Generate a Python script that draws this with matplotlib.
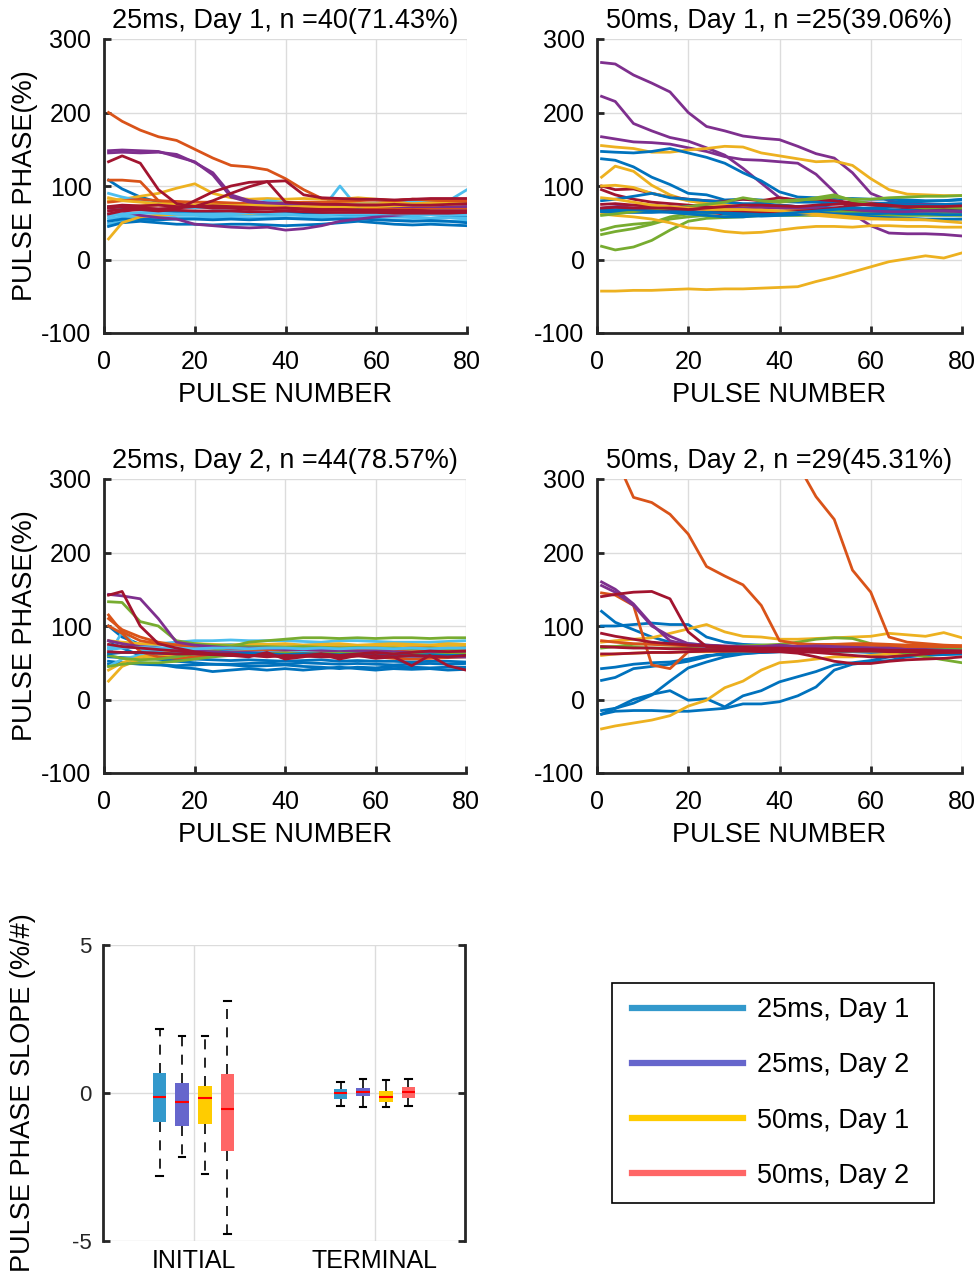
import numpy as np
import matplotlib.pyplot as plt
from matplotlib.patches import Rectangle

plt.rcParams['font.family'] = ['Liberation Sans', 'DejaVu Sans']
plt.rcParams['axes.unicode_minus'] = False

# matlab default line colours
C = ['#0072BD', '#D95319', '#EDB120', '#7E2F8E', '#77AC30', '#4DBEEE', '#A2142F']

PULSE = [1, 4, 8, 12, 16, 20, 24, 28, 32, 36, 40, 44, 48, 52, 56, 60, 64, 68, 72, 76, 80]

titles = ['25ms, Day 1, n =40(71.43%)', '50ms, Day 1, n =25(39.06%)',
          '25ms, Day 2, n =44(78.57%)', '50ms, Day 2, n =29(45.31%)']

# ---- 25ms day 1 ----
d1_25_col = [5, 5, 5, 5, 0, 0, 0, 2, 2, 5, 0, 1, 2, 3, 5, 1, 3, 3, 1, 2, 6, 6, 6, 6, 6]
d1_25 = [
    [62, 60, 58, 60, 62, 63, 62, 64, 63, 64, 62, 64, 68, 100, 70, 68, 66, 67, 65, 64, 62],
    [55, 58, 60, 58, 60, 60, 59, 60, 61, 60, 60, 61, 60, 60, 59, 60, 58, 57, 56, 57, 56],
    [58, 62, 63, 64, 62, 63, 64, 63, 62, 63, 62, 62, 63, 62, 61, 60, 59, 58, 56, 57, 55],
    [48, 52, 54, 55, 56, 56, 56, 57, 57, 56, 56, 57, 57, 56, 56, 55, 54, 53, 52, 52, 52],
    [45, 50, 52, 50, 48, 48, 47, 48, 48, 47, 46, 47, 48, 50, 52, 50, 48, 47, 48, 47, 46],
    [52, 55, 55, 54, 55, 55, 54, 55, 54, 55, 56, 55, 54, 55, 55, 54, 53, 52, 53, 52, 50],
    [108, 96, 85, 78, 75, 72, 70, 70, 70, 70, 70, 70, 69, 70, 70, 70, 69, 70, 70, 70, 70],
    [28, 50, 58, 60, 62, 63, 64, 64, 63, 64, 64, 65, 64, 65, 66, 65, 64, 65, 66, 65, 66],
    [80, 82, 86, 90, 97, 103, 90, 84, 82, 83, 82, 83, 82, 82, 84, 82, 80, 79, 78, 79, 78],
    [90, 85, 80, 75, 72, 70, 72, 72, 75, 80, 78, 76, 76, 77, 76, 77, 78, 79, 78, 80, 95],
    [72, 70, 68, 66, 65, 64, 64, 64, 64, 63, 63, 63, 62, 62, 62, 62, 61, 61, 61, 60, 60],
    [108, 108, 106, 80, 75, 73, 72, 70, 70, 69, 70, 70, 69, 70, 71, 70, 70, 69, 70, 70, 70],
    [70, 72, 73, 74, 73, 74, 75, 75, 76, 76, 77, 77, 76, 77, 76, 76, 77, 76, 77, 78, 77],
    [70, 66, 60, 57, 55, 48, 46, 44, 43, 44, 40, 42, 46, 52, 55, 58, 60, 62, 62, 63, 63],
    [60, 62, 64, 63, 62, 62, 62, 63, 64, 63, 62, 60, 60, 62, 62, 62, 62, 61, 61, 60, 61],
    [78, 80, 82, 80, 79, 78, 78, 77, 76, 76, 77, 78, 78, 79, 80, 81, 80, 82, 81, 80, 80],
    [148, 149, 148, 147, 140, 133, 115, 85, 78, 76, 75, 74, 74, 73, 74, 73, 72, 72, 72, 72, 72],
    [145, 146, 145, 146, 143, 132, 118, 88, 80, 77, 76, 76, 75, 75, 74, 74, 73, 73, 72, 73, 72],
    [200, 188, 176, 167, 162, 150, 138, 128, 126, 122, 110, 95, 83, 82, 82, 81, 80, 82, 81, 80, 80],
    [84, 80, 78, 76, 75, 74, 74, 73, 74, 73, 72, 72, 72, 71, 72, 72, 73, 74, 74, 75, 76],
    [133, 141, 131, 95, 76, 72, 70, 70, 68, 69, 70, 68, 67, 68, 67, 66, 66, 67, 66, 66, 66],
    [62, 66, 68, 66, 68, 80, 92, 100, 105, 106, 78, 76, 75, 75, 74, 74, 75, 74, 74, 75, 76],
    [70, 72, 70, 69, 70, 72, 80, 90, 99, 106, 107, 88, 84, 83, 82, 82, 81, 82, 83, 83, 83],
    [72, 74, 73, 74, 72, 72, 73, 72, 71, 70, 70, 69, 68, 68, 67, 67, 67, 66, 66, 66, 66],
    [66, 68, 70, 68, 67, 66, 66, 66, 65, 65, 66, 65, 64, 64, 64, 64, 63, 63, 63, 63, 64],
]

# ---- 50ms day 1 ----
d1_50_col = [3, 3, 3, 2, 0, 0, 2, 6, 6, 6, 4, 4, 4, 2, 2, 2, 0, 0, 0, 4, 3, 6, 2, 0, 6]
d1_50 = [
    [268, 266, 251, 240, 228, 200, 181, 175, 168, 165, 163, 154, 144, 138, 118, 90, 80, 76, 75, 74, 73],
    [222, 215, 185, 175, 166, 161, 152, 142, 124, 104, 84, 80, 79, 78, 78, 77, 76, 76, 75, 75, 75],
    [167, 164, 160, 159, 157, 152, 147, 140, 136, 135, 133, 131, 116, 92, 62, 46, 36, 35, 35, 34, 32],
    [155, 153, 151, 146, 146, 149, 151, 154, 153, 145, 141, 137, 133, 134, 128, 110, 95, 89, 88, 87, 87],
    [147, 146, 145, 147, 151, 145, 139, 131, 118, 107, 92, 85, 84, 83, 83, 82, 82, 81, 80, 80, 81],
    [137, 135, 126, 112, 102, 90, 88, 81, 82, 81, 79, 78, 78, 76, 77, 76, 77, 78, 79, 80, 82],
    [112, 127, 120, 101, 88, 80, 76, 74, 72, 70, 70, 68, 68, 67, 66, 66, 66, 65, 65, 66, 66],
    [100, 95, 96, 90, 85, 82, 80, 79, 82, 80, 84, 81, 82, 80, 77, 75, 72, 70, 69, 70, 70],
    [95, 88, 82, 78, 76, 74, 72, 70, 70, 72, 74, 72, 70, 68, 66, 65, 66, 66, 67, 68, 68],
    [68, 66, 67, 66, 68, 66, 64, 62, 62, 63, 64, 64, 63, 62, 64, 65, 65, 66, 67, 68, 69],
    [40, 45, 48, 50, 58, 62, 64, 66, 72, 78, 80, 81, 82, 85, 82, 82, 84, 85, 86, 86, 87],
    [34, 38, 42, 48, 55, 58, 60, 58, 60, 62, 64, 64, 65, 66, 64, 63, 62, 62, 62, 63, 62],
    [18, 13, 17, 26, 40, 52, 56, 57, 58, 60, 60, 60, 60, 60, 60, 61, 60, 60, 60, 60, 60],
    [-43, -43, -42, -42, -41, -40, -41, -40, -40, -39, -38, -37, -30, -24, -17, -10, -3, 1, 5, 2, 9],
    [62, 60, 58, 55, 50, 43, 42, 38, 36, 37, 40, 43, 45, 45, 44, 46, 46, 45, 45, 44, 44],
    [100, 101, 98, 90, 85, 80, 76, 72, 70, 68, 65, 62, 60, 58, 56, 55, 55, 54, 54, 54, 55],
    [65, 64, 64, 64, 65, 65, 64, 64, 63, 63, 63, 63, 63, 62, 62, 62, 63, 62, 62, 61, 61],
    [66, 66, 66, 68, 70, 72, 68, 62, 60, 59, 60, 61, 63, 62, 60, 58, 57, 56, 55, 55, 55],
    [80, 82, 86, 90, 84, 82, 80, 78, 76, 76, 74, 72, 72, 70, 70, 69, 68, 67, 66, 66, 66],
    [60, 62, 65, 68, 70, 72, 75, 78, 84, 80, 78, 80, 84, 88, 80, 76, 72, 72, 70, 71, 70],
    [70, 72, 74, 74, 72, 70, 69, 70, 70, 71, 70, 70, 70, 70, 68, 66, 65, 65, 66, 66, 65],
    [75, 76, 74, 72, 70, 70, 68, 67, 66, 65, 65, 66, 67, 70, 73, 76, 74, 72, 73, 74, 74],
    [84, 82, 78, 74, 72, 70, 68, 68, 68, 67, 66, 64, 62, 60, 58, 56, 55, 55, 54, 52, 50],
    [68, 68, 68, 66, 64, 62, 60, 58, 58, 60, 62, 64, 66, 68, 70, 70, 72, 74, 74, 75, 76],
    [70, 71, 70, 70, 70, 68, 70, 72, 74, 74, 73, 72, 74, 75, 76, 74, 73, 72, 72, 72, 73],
]

# ---- 25ms day 2 ----
d2_25_col = [0, 0, 0, 0, 0, 5, 5, 5, 5, 2, 2, 2, 1, 1, 1, 4, 4, 3, 3, 4, 5, 0, 6, 6, 6]
d2_25 = [
    [48, 50, 50, 48, 44, 42, 38, 40, 42, 40, 42, 40, 42, 44, 42, 40, 42, 41, 42, 40, 41],
    [52, 50, 48, 47, 46, 47, 48, 47, 45, 46, 47, 45, 44, 42, 44, 43, 45, 44, 43, 44, 44],
    [80, 70, 60, 55, 52, 50, 48, 48, 49, 50, 48, 50, 49, 48, 49, 48, 47, 48, 49, 48, 49],
    [100, 85, 75, 70, 68, 67, 66, 66, 65, 66, 66, 65, 66, 65, 66, 66, 65, 66, 66, 65, 66],
    [58, 57, 56, 55, 54, 55, 54, 53, 54, 53, 52, 53, 54, 52, 53, 52, 52, 51, 52, 52, 51],
    [70, 72, 74, 76, 78, 80, 80, 81, 80, 80, 80, 79, 78, 80, 80, 79, 78, 78, 78, 79, 80],
    [60, 92, 68, 66, 65, 66, 64, 65, 66, 64, 65, 66, 64, 66, 65, 64, 65, 66, 64, 65, 64],
    [45, 55, 60, 61, 62, 61, 60, 60, 61, 60, 59, 60, 60, 59, 60, 59, 58, 58, 59, 58, 58],
    [72, 73, 74, 74, 75, 74, 74, 75, 74, 75, 74, 74, 75, 74, 73, 74, 74, 73, 74, 73, 74],
    [25, 45, 55, 58, 60, 62, 63, 62, 63, 62, 63, 62, 63, 64, 63, 62, 63, 62, 63, 62, 62],
    [80, 78, 76, 75, 75, 76, 75, 74, 76, 75, 76, 74, 75, 76, 74, 75, 76, 75, 74, 76, 75],
    [40, 50, 58, 62, 66, 70, 70, 71, 72, 72, 72, 72, 73, 72, 72, 73, 72, 73, 73, 72, 73],
    [110, 95, 85, 78, 74, 72, 71, 70, 70, 70, 70, 69, 70, 70, 69, 70, 69, 70, 70, 69, 70],
    [100, 90, 65, 58, 56, 58, 60, 61, 62, 62, 61, 62, 60, 61, 60, 58, 56, 55, 56, 57, 58],
    [115, 92, 80, 76, 74, 72, 70, 69, 68, 68, 67, 68, 67, 66, 67, 66, 66, 65, 66, 66, 65],
    [60, 56, 54, 55, 58, 62, 66, 72, 78, 80, 82, 84, 84, 83, 84, 83, 84, 84, 83, 84, 84],
    [133, 132, 106, 100, 80, 76, 74, 73, 72, 72, 71, 72, 71, 70, 71, 70, 70, 69, 70, 69, 70],
    [143, 141, 137, 110, 78, 74, 72, 70, 70, 70, 68, 68, 67, 66, 66, 66, 65, 64, 64, 64, 65],
    [80, 76, 72, 70, 68, 66, 65, 64, 64, 63, 63, 62, 62, 62, 61, 60, 60, 59, 59, 58, 58],
    [45, 48, 50, 50, 52, 55, 58, 60, 62, 62, 63, 62, 62, 63, 62, 62, 62, 62, 61, 62, 62],
    [68, 70, 71, 70, 70, 69, 70, 70, 69, 70, 70, 69, 70, 69, 70, 70, 69, 70, 69, 70, 70],
    [62, 64, 64, 63, 62, 63, 62, 62, 63, 62, 61, 62, 62, 61, 62, 61, 61, 60, 61, 60, 60],
    [75, 72, 70, 68, 66, 64, 62, 62, 60, 60, 58, 60, 62, 60, 62, 64, 62, 64, 66, 65, 66],
    [65, 64, 64, 63, 62, 62, 61, 60, 60, 58, 60, 59, 58, 58, 59, 60, 58, 60, 59, 58, 60],
    [142, 147, 100, 76, 70, 65, 62, 60, 58, 64, 55, 58, 62, 55, 60, 56, 58, 46, 60, 46, 40],
]

# ---- 50ms day 2 ----
nan = np.nan
d2_50_col = [0, 0, 0, 0, 0, 0, 0, 2, 2, 2, 4, 4, 1, 1, 1, 1, 3, 3, 6, 6, 6, 6]
d2_50 = [
    [120, 105, 95, 85, 78, 76, 74, 72, 72, 70, 70, 69, 69, 68, 68, 67, 67, 66, 66, 66, 66],
    [100, 100, 102, 104, 102, 102, 85, 78, 75, 74, 73, 72, 72, 71, 71, 70, 70, 69, 69, 68, 68],
    [42, 44, 48, 50, 51, 55, 60, 61, 63, 64, 65, 65, 66, 66, 66, 66, 66, 65, 66, 66, 65],
    [26, 30, 42, 45, 48, 52, 58, 64, 66, 67, 68, 68, 68, 67, 67, 67, 66, 66, 66, 65, 65],
    [-15, -12, -5, 6, 25, 43, 51, 58, 62, 64, 65, 66, 66, 65, 65, 64, 64, 63, 63, 62, 62],
    [-20, -12, 0, 7, 12, -1, 1, -10, 5, 12, 24, 31, 38, 47, 50, 53, 58, 60, 62, 63, 65],
    [-20, -16, -15, -15, -16, -16, -14, -12, -6, -6, -3, 5, 17, 40, 48, 51, 53, 58, 60, 61, 62],
    [-40, -36, -32, -28, -22, -9, -1, 16, 25, 40, 50, 52, 55, 58, 58, 60, 62, 62, 63, 64, 65],
    [78, 80, 82, 84, 90, 96, 102, 92, 86, 85, 82, 82, 83, 84, 85, 86, 90, 88, 86, 91, 84],
    [60, 62, 63, 64, 64, 65, 65, 66, 66, 66, 66, 66, 66, 66, 66, 66, 66, 66, 66, 66, 66],
    [70, 72, 75, 76, 75, 74, 73, 72, 73, 74, 75, 78, 82, 84, 83, 76, 68, 62, 58, 54, 50],
    [72, 72, 71, 70, 70, 70, 69, 69, 70, 70, 70, 70, 69, 69, 70, 70, 69, 68, 68, 68, 68],
    [nan, 330, 275, 268, 252, 225, 181, 168, 156, 128, 80, 76, 75, 75, 74, 74, 73, 73, 73, 72, 72],
    [nan, nan, nan, nan, nan, nan, nan, nan, nan, nan, nan, 320, 276, 245, 176, 146, 85, 78, 76, 74, 73],
    [145, 142, 128, 47, 42, 65, 66, 66, 67, 67, 68, 68, 68, 69, 70, 70, 71, 71, 72, 72, 72],
    [80, 78, 76, 75, 74, 73, 73, 72, 72, 72, 72, 73, 74, 75, 76, 76, 75, 74, 74, 73, 73],
    [160, 150, 130, 102, 80, 74, 72, 72, 70, 72, 74, 72, 73, 72, 71, 70, 70, 68, 67, 66, 65],
    [155, 146, 128, 100, 86, 76, 74, 73, 72, 72, 72, 72, 71, 71, 70, 70, 69, 68, 68, 67, 66],
    [140, 143, 146, 147, 137, 92, 72, 70, 68, 66, 66, 65, 64, 62, 60, 58, 58, 60, 62, 64, 65],
    [90, 86, 82, 78, 76, 74, 73, 72, 71, 70, 70, 69, 69, 68, 68, 68, 67, 67, 67, 66, 66],
    [62, 62, 63, 64, 64, 65, 66, 66, 66, 65, 65, 63, 58, 52, 49, 49, 52, 54, 55, 56, 58],
    [72, 71, 70, 70, 69, 69, 68, 68, 68, 67, 67, 67, 66, 66, 66, 66, 65, 65, 65, 64, 64],
]

panels = [(d1_25, d1_25_col), (d1_50, d1_50_col), (d2_25, d2_25_col), (d2_50, d2_50_col)]

# ---- slope box summary ----
groups = ['25ms, Day 1', '25ms, Day 2', '50ms, Day 1', '50ms, Day 2']
box_colors = ['#3399CC', '#6666CC', '#FFCC00', '#FF6666']
phases = ['INITIAL', 'TERMINAL']
med = [[-0.15, -0.32, -0.18, -0.55], [0.0, 0.04, -0.15, 0.03]]
q1 = [[-0.98, -1.11, -1.05, -1.95], [-0.19, -0.09, -0.30, -0.16]]
q3 = [[0.67, 0.33, 0.24, 0.63], [0.12, 0.17, 0.07, 0.20]]
wlo = [[-2.8, -2.16, -2.72, -4.77], [-0.43, -0.47, -0.46, -0.43]]
whi = [[2.16, 1.93, 1.93, 3.1], [0.37, 0.46, 0.45, 0.48]]

W, H = 977, 1274
fig = plt.figure(figsize=(W / 100, H / 100), dpi=100)

rects = [(104, 39, 467, 333), (597, 39, 962, 333), (104, 479, 466, 773), (597, 479, 962, 773)]
for k, (r, (data, cols)) in enumerate(zip(rects, panels)):
    ax = fig.add_axes([r[0] / W, 1 - r[3] / H, (r[2] - r[0]) / W, (r[3] - r[1]) / H])
    for y, c in zip(data, cols):
        ax.plot(PULSE, y, color=C[c], lw=2.0)
    ax.set_xlim(0, 80)
    ax.set_ylim(-100, 300)
    ax.set_xticks([0, 20, 40, 60, 80])
    ax.set_yticks([-100, 0, 100, 200, 300])
    ax.grid(True, color='#DCDCDC', lw=1)
    ax.set_axisbelow(True)
    for s in ['top', 'right']:
        ax.spines[s].set_visible(False)
    for s in ['left', 'bottom']:
        ax.spines[s].set_color('#262626')
        ax.spines[s].set_linewidth(2)
    ax.tick_params(direction='in', length=5, width=2, color='#262626', labelsize=18)
    ax.tick_params(axis='x', pad=12)
    ax.tick_params(axis='y', pad=9)
    ax.set_title(titles[k], fontsize=19.5, pad=8)
    ax.set_xlabel('PULSE NUMBER', fontsize=19.5, labelpad=6)
    if k % 2 == 0:
        ax.set_ylabel('PULSE PHASE(%)', fontsize=19.5, labelpad=2)

# box plot panel
bx = fig.add_axes([103 / W, 1 - 1241 / H, 362 / W, 296 / H])
offs = [-0.375, -0.125, 0.125, 0.375]
for i, ph in enumerate(phases):
    for j in range(4):
        st = [dict(med=med[i][j], q1=q1[i][j], q3=q3[i][j], whislo=wlo[i][j], whishi=whi[i][j])]
        bx.bxp(st, positions=[2 * i + 1 + offs[j]], widths=0.15, patch_artist=True,
               showfliers=False, capwidths=0.07,
               boxprops=dict(facecolor=box_colors[j], edgecolor='none', lw=0),
               whiskerprops=dict(color='k', lw=1.2, linestyle=(0, (6, 5))),
               capprops=dict(color='k', lw=1.5),
               medianprops=dict(color='#FF0000', lw=1.5))
bx.set_xlim(0, 4)
bx.set_ylim(-5, 5)
bx.set_xticks([1, 3])
bx.set_xticklabels(phases)
bx.set_yticks([-5, 0, 5])
bx.grid(True, color='#DCDCDC', lw=1)
bx.set_axisbelow(True)
for s in ['top', 'bottom']:
    bx.spines[s].set_visible(False)
for s in ['left', 'right']:
    bx.spines[s].set_color('#262626')
    bx.spines[s].set_linewidth(2)
bx.tick_params(axis='y', direction='in', length=5, width=2, color='#262626',
               labelsize=16, right=True, labelcolor='#262626', pad=8)
bx.tick_params(axis='x', length=0, labelsize=18, pad=6)
bx.set_ylabel('PULSE PHASE SLOPE (%/#)', fontsize=19.5, labelpad=26)

# legend: frame drawn separately so the inner margins match
fig.patches.append(Rectangle((612 / W, 1 - 1203 / H), 322 / W, 220 / H, transform=fig.transFigure,
                             fill=False, edgecolor='k', lw=1.2))
handles = [plt.Line2D([], [], color=c, lw=4.5) for c in box_colors]
leg = bx.legend(handles, groups, loc='upper left', bbox_to_anchor=(632 / W, 1 - 997 / H),
                bbox_transform=fig.transFigure, frameon=False,
                fontsize=19.5, handlelength=4.1, handletextpad=0.52,
                labelspacing=1.08, borderpad=0, borderaxespad=0)

fig.savefig('out.png', dpi=100)
